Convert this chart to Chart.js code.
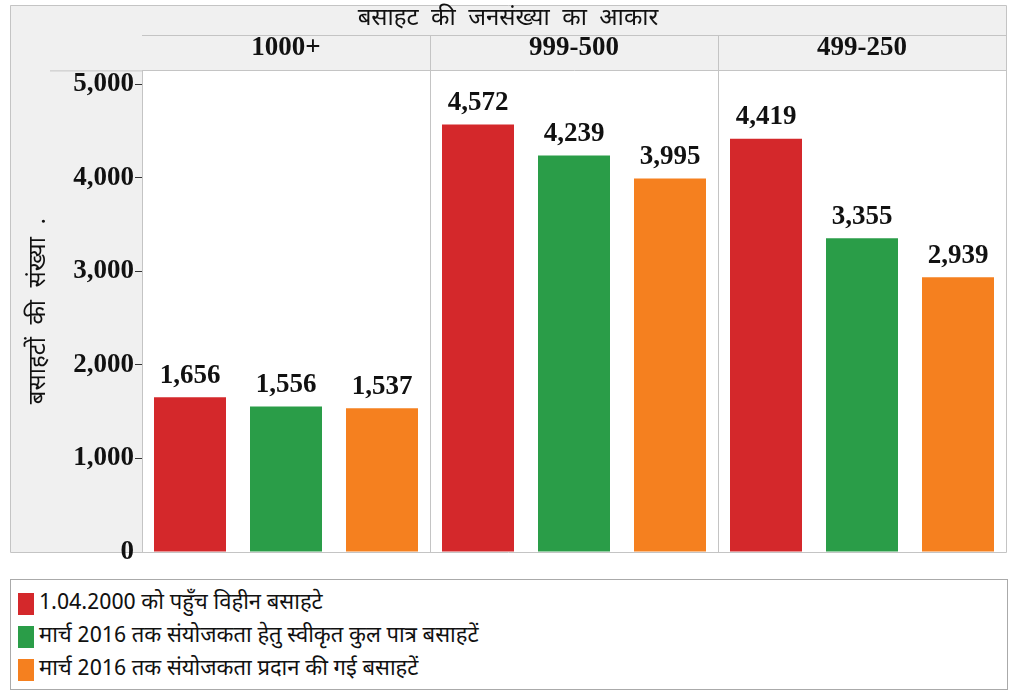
<!DOCTYPE html>
<html>
<head>
<meta charset="utf-8">
<script src="https://cdn.jsdelivr.net/npm/chart.js@4.4.1/dist/chart.umd.min.js"></script>
<style>
  body { margin: 0; background: #fff; }
  #wrap { position: relative; width: 1014px; height: 695px; }
  #legend { position: absolute; left: 10px; top: 579px; width: 998px; height: 111px; border: 1px solid #aaa; box-sizing: border-box; padding-top: 7px; font-family: "Noto Sans Devanagari", "Liberation Sans Narrow", "Liberation Sans", sans-serif; font-size: 22px; color: #111; }
  .item { height: 33px; display: flex; align-items: center; }
  .sw { width: 16px; height: 22px; margin-left: 7px; margin-right: 5px; }
</style>
</head>
<body>
<div id="wrap">
  <canvas id="c" width="1014" height="562"></canvas>
  <div id="legend"></div>
</div>
<script>
// population size of habitation
var categories = ['1000+', '999-500', '499-250'];
var seriesNames = [
  '1.04.2000 को पहुँच विहीन बसाहटे',
  'मार्च 2016 तक संयोजकता हेतु स्वीकृत कुल पात्र बसाहटें',
  'मार्च 2016 तक संयोजकता प्रदान की गई बसाहटें'
];
var unconnected2000 = [1656, 4572, 4419];
var sanctioned2016 = [1556, 4239, 3355];
var connected2016 = [1537, 3995, 2939];
var yTicks = [0, 1000, 2000, 3000, 4000, 5000];
var colors = ['#d4282b', '#2a9d48', '#f5801f'];

var lineColor = '#c4c4c4';
var serif = '"Liberation Serif", "DejaVu Serif", serif';
var hindi = '"Noto Sans Devanagari", "Liberation Sans Narrow", "Liberation Sans", sans-serif';

// grey header cells, left column and frame lines
var framePlugin = {
  id: 'frame',
  beforeDraw: function(chart) {
    var ctx = chart.ctx, a = chart.chartArea;
    var x = chart.scales.x;
    ctx.save();
    ctx.fillStyle = '#f0f0f0';
    ctx.fillRect(10, 5, 996, a.top - 5);
    ctx.fillRect(10, 5, a.left - 10, a.bottom - 5);
    ctx.fillStyle = '#fff';
    ctx.fillRect(a.left, a.top, a.right - a.left, a.bottom - a.top);
    ctx.strokeStyle = lineColor;
    ctx.lineWidth = 1;
    ctx.beginPath();
    ctx.rect(10.5, 5.5, 996, a.bottom - 5);
    ctx.moveTo(a.left, 35.5); ctx.lineTo(a.right, 35.5);
    ctx.moveTo(50, a.top + 0.5); ctx.lineTo(a.left, a.top + 0.5);
    for (var i = 1; i < categories.length; i++) {
      var px = Math.round((x.getPixelForTick(i - 1) + x.getPixelForTick(i)) / 2) + 0.5;
      ctx.moveTo(px, 35); ctx.lineTo(px, a.top);
    }
    ctx.stroke();
    ctx.restore();
  },
  afterDatasetsDraw: function(chart) {
    var ctx = chart.ctx;
    ctx.save();
    ctx.font = 'bold 27px ' + serif;
    ctx.fillStyle = '#111';
    ctx.textAlign = 'center';
    ctx.textBaseline = 'bottom';
    chart.data.datasets.forEach(function(ds, di) {
      chart.getDatasetMeta(di).data.forEach(function(bar, i) {
        ctx.fillText(ds.data[i].toLocaleString('en-US'), bar.x, bar.y - 8);
      });
    });
    ctx.restore();
  }
};

var datasets = [unconnected2000, sanctioned2016, connected2016].map(function(d, i) {
  return { label: seriesNames[i], data: d, backgroundColor: colors[i], categoryPercentage: 1, barPercentage: 0.75 };
});

new Chart(document.getElementById('c'), {
  type: 'bar',
  data: { labels: categories, datasets: datasets },
  plugins: [framePlugin],
  options: {
    responsive: false,
    animation: false,
    layout: { padding: { left: 10, right: 8, top: 5, bottom: 10 } },
    plugins: {
      legend: { display: false },
      tooltip: { enabled: false },
      title: {
        display: true,
        text: 'बसाहट  की  जनसंख्या  का  आकार',
        font: { family: hindi, size: 24, weight: 'normal', lineHeight: 1.1 },
        color: '#111',
        padding: { top: 2, bottom: 2 }
      }
    },
    scales: {
      x: {
        position: 'top',
        afterFit: function(s) { s.height = 35; },
        grid: { offset: true, drawTicks: false, color: lineColor },
        border: { display: true, color: lineColor },
        ticks: { padding: 6, color: '#111', font: { family: serif, size: 27, weight: 'bold' } }
      },
      y: {
        min: 0,
        max: 5150,
        afterFit: function(s) { s.width = 132; s.paddingTop = 0; s.paddingBottom = 0; },
        afterBuildTicks: function(s) { s.ticks = yTicks.map(function(v) { return { value: v }; }); },
        grid: {
          drawOnChartArea: false,
          tickLength: 7,
          tickColor: function(c) { return c.tick && c.tick.value === 0 ? 'rgba(0,0,0,0)' : '#333'; }
        },
        border: { display: true, color: lineColor },
        ticks: {
          padding: 1,
          color: '#111',
          font: { family: serif, size: 27, weight: 'bold' },
          callback: function(v) { return v.toLocaleString('en-US'); }
        },
        title: {
          display: true,
          text: 'बसाहटों  की  संख्या  .',
          color: '#111',
          font: { family: hindi, size: 24 },
          padding: { top: 16, bottom: 0 }
        }
      }
    }
  }
});

// legend rows below the chart
var legend = document.getElementById('legend');
seriesNames.forEach(function(name, i) {
  var row = document.createElement('div');
  row.className = 'item';
  var sw = document.createElement('div');
  sw.className = 'sw';
  sw.style.background = colors[i];
  var t = document.createElement('span');
  t.textContent = name;
  row.appendChild(sw);
  row.appendChild(t);
  legend.appendChild(row);
});
</script>
</body>
</html>
